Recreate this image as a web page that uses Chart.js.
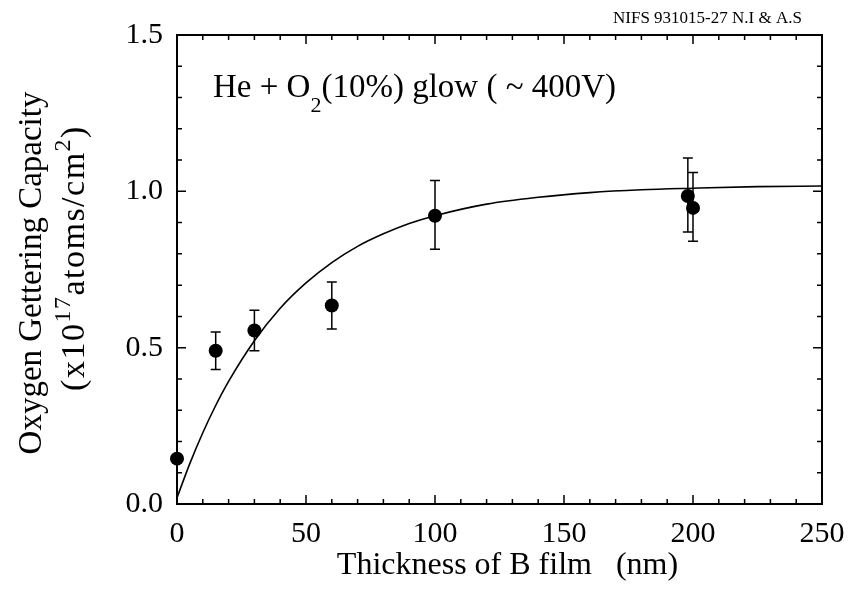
<!DOCTYPE html>
<html>
<head>
<meta charset="utf-8">
<script src="https://cdn.jsdelivr.net/npm/chart.js@4.4.1/dist/chart.umd.min.js"></script>
<style>
  html, body { margin: 0; padding: 0; background: #fff; }
  #wrap { width: 862px; height: 590px; }
</style>
</head>
<body>
<div id="wrap"><canvas id="c" width="862" height="590"></canvas></div>
<script>
// ---- data ----
const thickness = [0, 15, 30, 60, 100, 198, 200];          // nm
const capacity  = [0.145, 0.49, 0.555, 0.635, 0.922, 0.985, 0.947];
const errLow    = [0.145, 0.43, 0.49, 0.56, 0.815, 0.87, 0.84];
const errHigh   = [0.145, 0.55, 0.62, 0.71, 1.035, 1.107, 1.06];

// fitted curve
const fitX = [0, 5, 10, 15, 20, 30, 40, 50, 60, 70, 80, 90, 100, 120, 140, 160, 180, 200, 225, 250];
const fitY = [0.02, 0.13, 0.228, 0.315, 0.392, 0.522, 0.626, 0.707, 0.772, 0.824, 0.864, 0.897, 0.922, 0.959, 0.981, 0.996, 1.005, 1.010, 1.015, 1.017];

const xTickLabels = [0, 50, 100, 150, 200, 250];
const yTickLabels = ['0.0', '0.5', '1.0', '1.5'];

const SERIF = '"Liberation Serif", "DejaVu Serif", serif';

function drawRich(ctx, parts, x, y, rotate, center, spacing) {
  ctx.save();
  ctx.translate(x, y);
  if (rotate) ctx.rotate(-Math.PI / 2);
  ctx.textBaseline = 'alphabetic';
  ctx.textAlign = 'left';
  ctx.fillStyle = '#000';
  if (spacing) ctx.letterSpacing = spacing + 'px';
  let total = 0;
  parts.forEach(p => { ctx.font = p.size + 'px ' + SERIF; total += ctx.measureText(p.t).width; });
  let cx = center ? -total / 2 : 0;
  parts.forEach(p => {
    ctx.font = p.size + 'px ' + SERIF;
    ctx.fillText(p.t, cx, p.dy || 0);
    cx += ctx.measureText(p.t).width;
  });
  ctx.restore();
}

const decorPlugin = {
  id: 'decor',
  afterDatasetsDraw(chart) {
    const ctx = chart.ctx, xs = chart.scales.x, ys = chart.scales.y;
    ctx.save();
    ctx.strokeStyle = '#000';
    ctx.lineWidth = 1.5;
    for (let i = 0; i < thickness.length; i++) {
      if (errHigh[i] === errLow[i]) continue;
      const px = xs.getPixelForValue(thickness[i]);
      const yl = ys.getPixelForValue(errLow[i]);
      const yh = ys.getPixelForValue(errHigh[i]);
      ctx.beginPath();
      ctx.moveTo(px, yl); ctx.lineTo(px, yh);
      ctx.moveTo(px - 5, yl); ctx.lineTo(px + 5, yl);
      ctx.moveTo(px - 5, yh); ctx.lineTo(px + 5, yh);
      ctx.stroke();
    }
    ctx.restore();
  },
  afterDraw(chart) {
    const ctx = chart.ctx, a = chart.chartArea, xs = chart.scales.x, ys = chart.scales.y;
    ctx.save();
    ctx.strokeStyle = '#000';
    ctx.lineWidth = 2;
    ctx.strokeRect(a.left, a.top, a.right - a.left, a.bottom - a.top);
    ctx.lineWidth = 1.5;
    ctx.beginPath();
    for (let v = 0; v <= 250; v += 10) {
      const px = xs.getPixelForValue(v);
      const len = v % 50 === 0 ? 9 : 5;
      ctx.moveTo(px, a.bottom); ctx.lineTo(px, a.bottom - len);
      ctx.moveTo(px, a.top); ctx.lineTo(px, a.top + len);
    }
    for (let k = 0; k <= 15; k++) {
      const py = ys.getPixelForValue(k / 10);
      const len = k % 5 === 0 ? 9 : 5;
      ctx.moveTo(a.left, py); ctx.lineTo(a.left + len, py);
      ctx.moveTo(a.right, py); ctx.lineTo(a.right - len, py);
    }
    ctx.stroke();
    ctx.restore();

    // texts
    drawRich(ctx, [{t: 'NIFS 931015-27 N.I & A.S', size: 17}], 613, 23, false, false);
    drawRich(ctx, [
      {t: 'He + O', size: 33},
      {t: '2', size: 22, dy: 15},
      {t: '(10%) glow ( ~ 400V)', size: 33}
    ], 213, 97, false, false);
    drawRich(ctx, [{t: 'Oxygen Gettering Capacity', size: 33}], 41, 273, true, true);
    drawRich(ctx, [
      {t: '(x10', size: 34},
      {t: '17', size: 24, dy: -14},
      {t: 'atoms/cm', size: 34},
      {t: '2', size: 24, dy: -14},
      {t: ')', size: 34}
    ], 84, 258, true, true, 1.5);
    drawRich(ctx, [{t: 'Thickness of B film   (nm)', size: 32}], (a.left + a.right) / 2 + 8, 574, false, true);
  }
};

new Chart(document.getElementById('c'), {
  type: 'scatter',
  data: {
    datasets: [
      {
        type: 'line',
        data: fitX.map((x, i) => ({x: x, y: fitY[i]})),
        borderColor: '#000',
        borderWidth: 1.6,
        pointRadius: 0,
        fill: false,
        cubicInterpolationMode: 'monotone',
        order: 2
      },
      {
        type: 'scatter',
        data: thickness.map((x, i) => ({x: x, y: capacity[i]})),
        pointRadius: 7,
        pointHoverRadius: 7,
        backgroundColor: '#000',
        borderColor: '#000',
        borderWidth: 0,
        clip: false,
        order: 1
      }
    ]
  },
  plugins: [decorPlugin],
  options: {
    responsive: false,
    animation: false,
    devicePixelRatio: 1,
    events: [],
    layout: { padding: { left: 0, right: 40, top: 35, bottom: 0 } },
    plugins: { legend: { display: false }, tooltip: { enabled: false } },
    scales: {
      x: {
        type: 'linear', min: 0, max: 250,
        grid: { display: false, drawTicks: false },
        border: { display: false },
        ticks: {
          stepSize: 10, autoSkip: false, maxRotation: 0, padding: 12,
          color: '#000', font: { family: SERIF, size: 30 },
          callback: v => xTickLabels.includes(Math.round(v)) && Math.abs(v - Math.round(v)) < 1e-6 ? String(Math.round(v)) : ''
        },
        afterFit: s => { s.height = 86; }
      },
      y: {
        type: 'linear', min: 0, max: 1.5,
        grid: { display: false, drawTicks: false },
        border: { display: false },
        ticks: {
          stepSize: 0.1, autoSkip: false, padding: 14,
          color: '#000', font: { family: SERIF, size: 30 },
          callback: v => { const r = Math.round(v * 10); return r % 5 === 0 ? yTickLabels[r / 5] : ''; }
        },
        afterFit: s => { s.width = 177; }
      }
    }
  }
});
</script>
</body>
</html>
